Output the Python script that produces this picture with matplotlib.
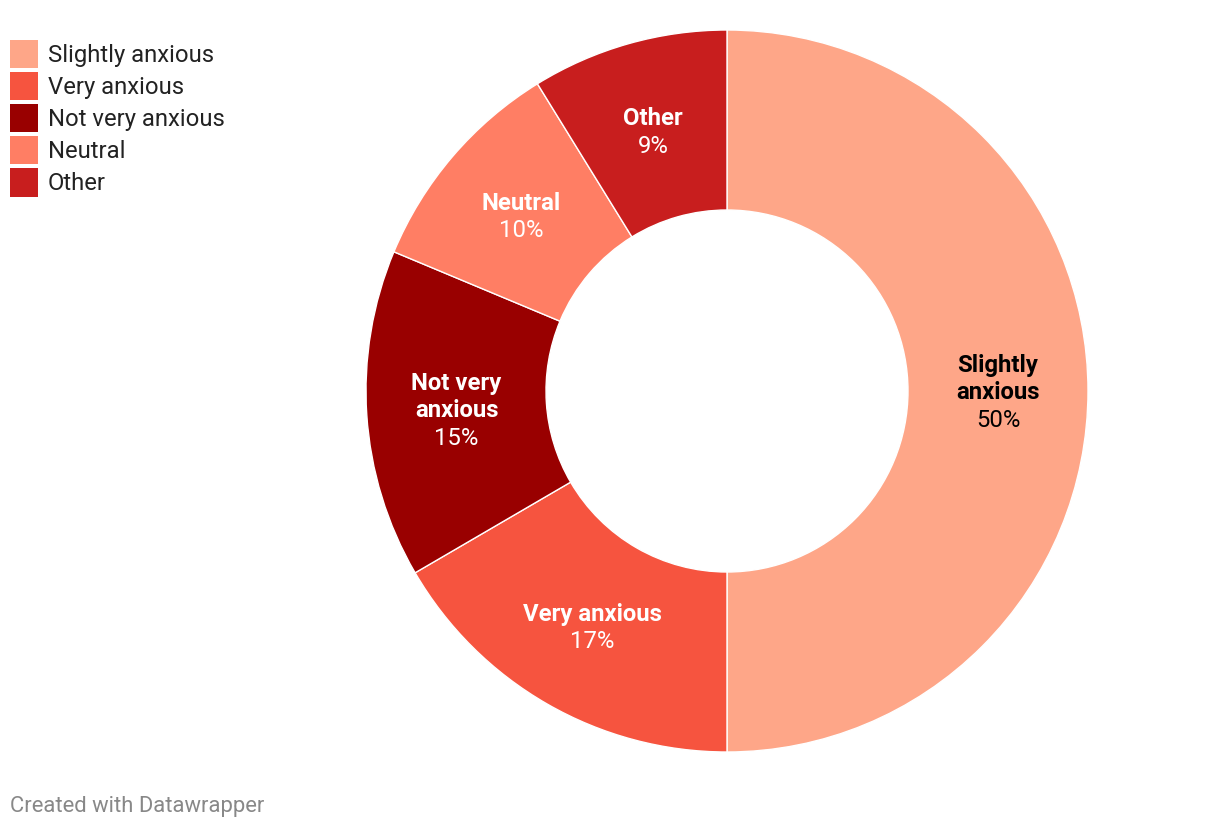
import matplotlib.pyplot as plt
import numpy as np
from matplotlib.patches import Patch

plt.rcParams['font.family'] = ['Roboto', 'DejaVu Sans']

# data
labels = ['Slightly anxious', 'Very anxious', 'Not very anxious', 'Neutral', 'Other']
inner_labels = ['Slightly\nanxious', 'Very anxious', 'Not very\nanxious', 'Neutral', 'Other']
shares = [50.0, 16.6, 14.7, 9.9, 8.8]
colors = ['#fea688', '#f6543f', '#990000', '#ff7e64', '#c81e1e']
text_colors = ['#000000', '#ffffff', '#ffffff', '#ffffff', '#ffffff']

W, H = 1220, 830
fig = plt.figure(figsize=(W / 100, H / 100), dpi=100)
ax = fig.add_axes([0, 0, 1, 1])

cx, cy = 727, H - 391
r_out, r_in = 361, 181
wedges, _ = ax.pie(shares, colors=colors, startangle=90, counterclock=False,
                   center=(cx, cy), radius=r_out,
                   wedgeprops=dict(width=r_out - r_in, edgecolor='white', linewidth=1))
ax.set_xlim(0, W)
ax.set_ylim(0, H)
ax.set_aspect('equal')
ax.axis('off')

# labels in the ring
r_mid = (r_out + r_in) / 2
lh = 27.5
fs = 17.2
for w, lab, val, tc in zip(wedges, inner_labels, shares, text_colors):
    ang = np.deg2rad((w.theta1 + w.theta2) / 2)
    mx = cx + r_mid * np.cos(ang)
    my = cy + r_mid * np.sin(ang) - 2
    lines = lab.split('\n')
    n = len(lines) + 1
    for i, line in enumerate(lines):
        y = my + ((n - 1) / 2 - i) * lh
        ax.text(mx, y, line, ha='center', va='center', fontsize=fs,
                fontweight='bold', color=tc)
    y = my + ((n - 1) / 2 - len(lines)) * lh
    ax.text(mx, y, f'{round(val)}%', ha='center', va='center', fontsize=fs, color=tc)

handles = [Patch(facecolor=c, edgecolor='none') for c in colors]
leg = ax.legend(handles, labels, loc='upper left', bbox_to_anchor=(10 / W, 1 - 40 / H),
                bbox_transform=fig.transFigure, frameon=False, fontsize=fs,
                handlelength=1.17, handleheight=1.43, handletextpad=0.42,
                labelspacing=0.17, borderpad=0, borderaxespad=0)
for t in leg.get_texts():
    t.set_color('#222222')

fig.text(10 / W, 1 - 806 / H, 'Created with Datawrapper', ha='left', va='center',
         fontsize=15.8, color='#888888')

fig.savefig('out.png', dpi=100)
